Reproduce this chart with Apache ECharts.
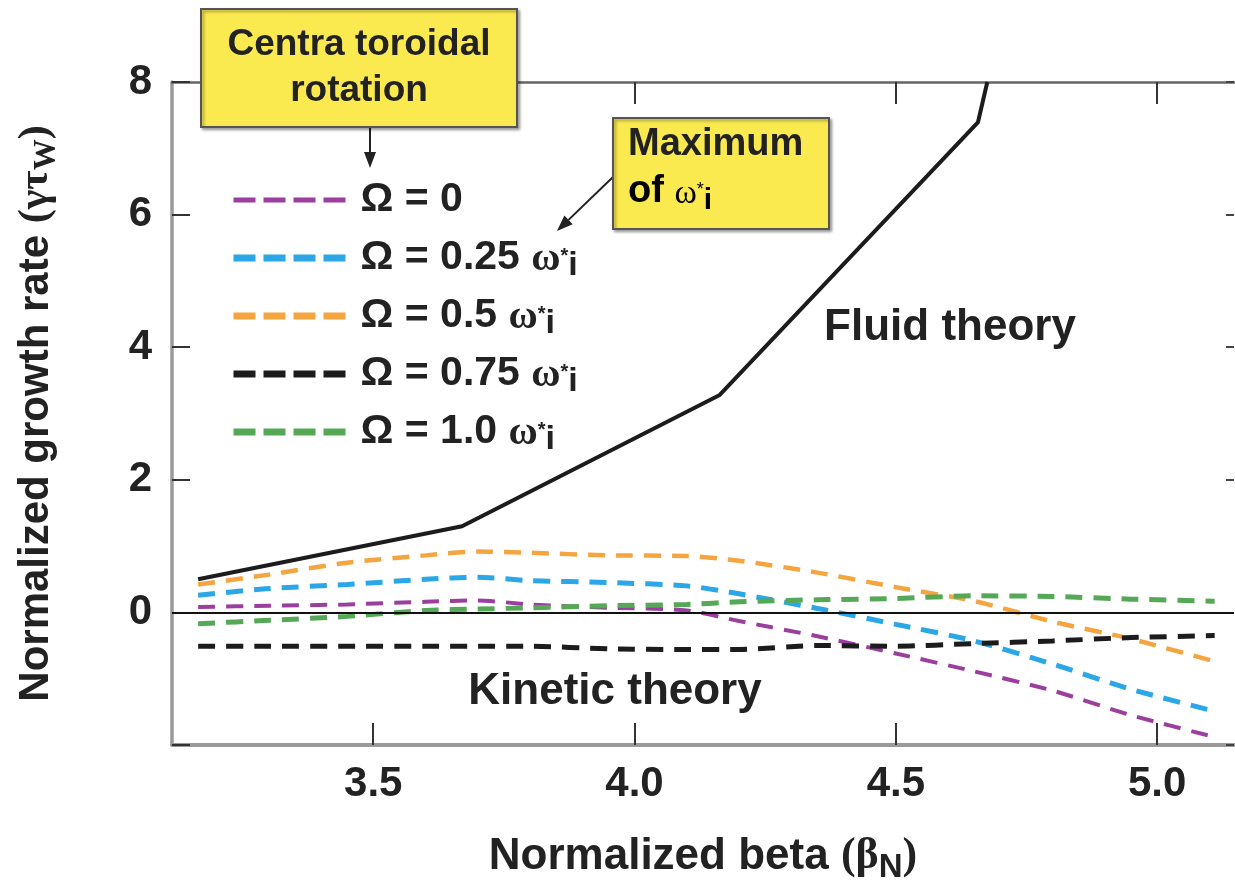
<!DOCTYPE html>
<html>
<head>
<meta charset="utf-8">
<script src="https://cdn.jsdelivr.net/npm/echarts@6/dist/echarts.min.js"></script>
<style>
  html, body { margin: 0; padding: 0; background: #fff; }
  #chart { width: 1235px; height: 885px; }
</style>
</head>
<body>
<div id="chart"></div>
<script>
// fluid theory curve (solid black)
var fluidBeta = [3.165, 3.67, 4.163, 4.657, 4.675];
var fluidRate = [0.50, 1.30, 3.28, 7.39, 8.0];

// kinetic theory curves share one beta grid
var kinBeta = [3.165, 3.30, 3.45, 3.60, 3.70, 3.80, 3.95, 4.10, 4.20, 4.35, 4.50, 4.65, 4.80, 4.95, 5.11];
var omega0   = [0.08, 0.10, 0.12, 0.16, 0.18, 0.12, 0.07, 0.03, -0.13, -0.36, -0.62, -0.89, -1.18, -1.55, -1.88];
var omega025 = [0.26, 0.36, 0.42, 0.50, 0.53, 0.48, 0.45, 0.40, 0.28, 0.06, -0.18, -0.43, -0.78, -1.16, -1.49];
var omega05  = [0.42, 0.57, 0.75, 0.86, 0.92, 0.90, 0.86, 0.85, 0.78, 0.60, 0.38, 0.17, -0.14, -0.40, -0.74];
var omega075 = [-0.51, -0.51, -0.51, -0.51, -0.51, -0.51, -0.55, -0.56, -0.56, -0.50, -0.51, -0.47, -0.43, -0.38, -0.35];
var omega10  = [-0.17, -0.12, -0.06, 0.03, 0.05, 0.07, 0.10, 0.12, 0.16, 0.19, 0.21, 0.25, 0.24, 0.20, 0.17];

var seriesNames = ['Ω = 0', 'Ω = 0.25 ω*i', 'Ω = 0.5 ω*i', 'Ω = 0.75 ω*i', 'Ω = 1.0 ω*i'];
var seriesValues = [omega0, omega025, omega05, omega075, omega10];
var seriesColors = ['#9a3f9e', '#2ba6e6', '#f5a53f', '#1c1c1c', '#55a856'];
var seriesWidths = [4, 5, 4.5, 5, 5];

var xTicks = [3.5, 4.0, 4.5, 5.0];

var FONT = '"Liberation Sans", Arial, Helvetica, sans-serif';
var SERIF = '"Liberation Serif", "DejaVu Serif", serif';
var INK = '#222';

var pairs = function (xs, ys) {
    var out = [];
    for (var i = 0; i < xs.length; i++) out.push([xs[i], ys[i]]);
    return out;
};

var series = [{
    name: 'Fluid theory',
    type: 'line',
    data: pairs(fluidBeta, fluidRate),
    symbol: 'none',
    lineStyle: { color: '#1c1c1c', width: 4 },
    z: 5,
    markLine: {
        silent: true,
        symbol: 'none',
        label: { show: false },
        lineStyle: { color: '#111', width: 2, type: 'solid' },
        data: [{ yAxis: 0 }]
    }
}];
var legendData = [];
for (var s = 0; s < seriesNames.length; s++) {
    series.push({
        name: seriesNames[s],
        type: 'line',
        data: pairs(kinBeta, seriesValues[s]),
        symbol: 'none',
        showSymbol: false,
        smooth: 0.25,
        color: seriesColors[s],
        lineStyle: { color: seriesColors[s], width: seriesWidths[s], type: [17, 11] },
        z: 4
    });
    legendData.push({
        name: seriesNames[s],
        itemStyle: { opacity: 0 },
        lineStyle: { color: seriesColors[s], width: s === 0 ? 5 : 7, type: [22, 8] }
    });
}

// arrow helper for the annotation boxes
var arrow = function (x1, y1, x2, y2) {
    var dx = x2 - x1, dy = y2 - y1;
    var len = Math.sqrt(dx * dx + dy * dy);
    var ux = dx / len, uy = dy / len;
    var bx = x2 - ux * 16, by = y2 - uy * 16;
    return [{
        type: 'line',
        shape: { x1: x1, y1: y1, x2: bx, y2: by },
        style: { stroke: '#222', lineWidth: 2 }
    }, {
        type: 'polygon',
        shape: { points: [[x2, y2], [bx - uy * 6, by + ux * 6], [bx + uy * 6, by - ux * 6]] },
        style: { fill: '#222' }
    }];
};

var omegaRich = {
    t: { fontFamily: FONT, fontWeight: 'bold', fontSize: 41, color: INK, lineHeight: 50 },
    w: { fontFamily: SERIF, fontSize: 40, color: INK, lineHeight: 40, padding: [4, 0, 0, 0] },
    s: { fontFamily: FONT, fontSize: 20, color: INK, lineHeight: 20, padding: [0, 0, 4, 0] },
    i: { fontFamily: FONT, fontWeight: 'bold', fontSize: 34, color: INK, lineHeight: 34, padding: [16, 0, 0, 0] }
};

var graphics = [{
    type: 'rect',
    shape: { x: 201, y: 9, width: 316, height: 118 },
    style: { fill: '#fae94f', stroke: '#555', lineWidth: 2, shadowBlur: 3, shadowOffsetX: 2, shadowOffsetY: 2, shadowColor: 'rgba(0,0,0,0.35)' },
    z: 20
}, {
    type: 'text',
    x: 359, y: 68,
    style: {
        text: 'Centra toroidal\nrotation',
        font: 'bold 37px ' + FONT,
        fill: INK,
        align: 'center',
        verticalAlign: 'middle',
        lineHeight: 46
    },
    z: 21
}, {
    type: 'rect',
    shape: { x: 613, y: 118, width: 216, height: 111 },
    style: { fill: '#fae94f', stroke: '#555', lineWidth: 2, shadowBlur: 3, shadowOffsetX: 2, shadowOffsetY: 2, shadowColor: 'rgba(0,0,0,0.35)' },
    z: 20
}, {
    type: 'text',
    x: 628, y: 145,
    style: {
        text: 'Maximum',
        font: 'bold 38px ' + FONT,
        fill: INK,
        align: 'left',
        verticalAlign: 'middle'
    },
    z: 21
}, {
    type: 'text',
    x: 628, y: 192,
    style: {
        text: '{t|of }{w|ω}{s|*}{i|i}',
        align: 'left',
        verticalAlign: 'middle',
        rich: {
            t: { fontFamily: FONT, fontWeight: 'bold', fontSize: 38, color: INK },
            w: { fontFamily: SERIF, fontSize: 34, color: INK, padding: [4, 0, 0, 0] },
            s: { fontFamily: FONT, fontSize: 18, color: INK, padding: [0, 0, 4, 0] },
            i: { fontFamily: FONT, fontWeight: 'bold', fontSize: 30, color: INK, padding: [18, 0, 0, 0] }
        }
    },
    z: 21
}, {
    type: 'text',
    x: 950, y: 328,
    style: { text: 'Fluid theory', font: 'bold 44px ' + FONT, fill: INK, align: 'center', verticalAlign: 'middle' },
    z: 10
}, {
    type: 'text',
    x: 615, y: 692,
    style: { text: 'Kinetic theory', font: 'bold 44px ' + FONT, fill: INK, align: 'center', verticalAlign: 'middle' },
    z: 10
}].concat(arrow(370, 127, 370, 168)).concat(arrow(613, 177, 557, 231));

var option = {
    animation: false,
    backgroundColor: '#fff',
    grid: { left: 172, right: 1, top: 82, bottom: 140, outerBoundsMode: 'none', containLabel: false },
    xAxis: [{
        type: 'value',
        position: 'bottom',
        min: 3.115,
        max: 5.147,
        splitLine: { show: false },
        axisLine: { onZero: false, lineStyle: { color: '#9a9a9a', width: 4 } },
        axisTick: { inside: true, length: 22, customValues: xTicks, lineStyle: { color: '#333', width: 2 } },
        axisLabel: {
            customValues: xTicks,
            margin: 18,
            formatter: function (v) { return v.toFixed(1); },
            fontFamily: FONT, fontWeight: 'bold', fontSize: 42, color: INK
        },
        name: 'Normalized beta {g|(β}{sub|N}{g|)}',
        nameLocation: 'middle',
        nameGap: 84,
        nameTextStyle: {
            fontFamily: FONT, fontWeight: 'bold', fontSize: 44, color: INK,
            rich: {
                g: { fontFamily: SERIF, fontSize: 44, color: INK },
                sub: { fontFamily: FONT, fontWeight: 'bold', fontSize: 33, color: INK, padding: [22, 0, 0, 0] }
            }
        }
    }, {
        type: 'value',
        position: 'top',
        min: 3.115,
        max: 5.147,
        splitLine: { show: false },
        axisLine: { onZero: false, lineStyle: { color: '#666', width: 2.5 } },
        axisTick: { inside: true, length: 22, customValues: xTicks, lineStyle: { color: '#333', width: 2 } },
        axisLabel: { show: false }
    }],
    yAxis: [{
        type: 'value',
        position: 'left',
        min: -2,
        max: 8,
        interval: 2,
        splitLine: { show: false },
        axisLine: { show: true, onZero: false, lineStyle: { color: '#9a9a9a', width: 3.5 } },
        axisTick: { show: true, inside: true, length: 18, lineStyle: { color: '#333', width: 2 } },
        axisLabel: {
            margin: 20,
            formatter: function (v) { return v === -2 ? '' : String(v); },
            fontFamily: FONT, fontWeight: 'bold', fontSize: 42, color: INK
        },
        name: 'Normalized growth rate {g|(γτ}{sub|W}{g|)}',
        nameLocation: 'middle',
        nameRotate: 90,
        nameGap: 110,
        nameTextStyle: {
            fontFamily: FONT, fontWeight: 'bold', fontSize: 42, color: INK,
            rich: {
                g: { fontFamily: SERIF, fontSize: 42, color: INK },
                sub: { fontFamily: SERIF, fontSize: 31, color: INK, padding: [20, 0, 0, 0] }
            }
        }
    }, {
        type: 'value',
        position: 'right',
        min: -2,
        max: 8,
        interval: 2,
        splitLine: { show: false },
        axisLine: { show: false },
        axisTick: { show: true, inside: true, length: 8, lineStyle: { color: '#444', width: 2 } },
        axisLabel: { show: false }
    }],
    legend: {
        data: legendData,
        orient: 'vertical',
        left: 225,
        top: 170,
        itemWidth: 114,
        itemHeight: 14,
        itemGap: 8,
        selectedMode: false,
        formatter: function (name) {
            var p = name.split(' ω*i');
            if (p.length > 1) return '{t|' + p[0] + ' }{w|ω}{s|*}{i|i}';
            return '{t|' + name + '}';
        },
        textStyle: {
            fontFamily: FONT, fontWeight: 'bold', fontSize: 41, color: INK,
            lineHeight: 50,
            padding: [0, 0, 0, 8],
            rich: omegaRich
        }
    },
    series: series,
    graphic: graphics
};

var myChart = echarts.init(document.getElementById('chart'));
myChart.setOption(option);
</script>
</body>
</html>
